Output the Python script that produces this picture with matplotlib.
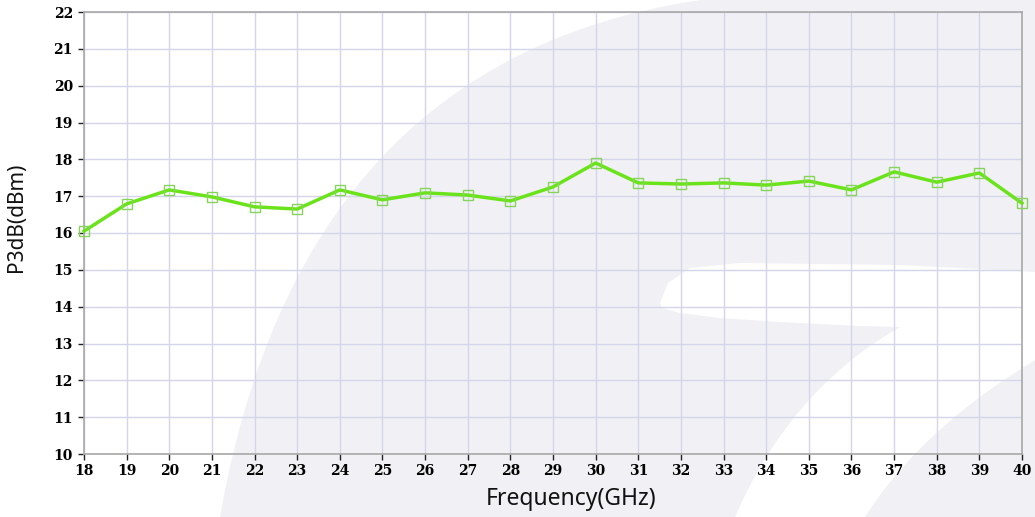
import numpy as np
import matplotlib
matplotlib.use("Agg")
import matplotlib.pyplot as plt
from matplotlib.patches import Polygon

# data
freq_ghz = [18, 19, 20, 21, 22, 23, 24, 25, 26, 27, 28,
            29, 30, 31, 32, 33, 34, 35, 36, 37, 38, 39, 40]
p3db_dbm = [16.05, 16.79, 17.17, 16.98, 16.71, 16.65, 17.17, 16.90, 17.09, 17.03, 16.87,
            17.25, 17.90, 17.36, 17.33, 17.36, 17.30, 17.41, 17.17, 17.66, 17.38, 17.63, 16.81]
x_ticks = list(range(18, 41))
y_ticks = list(range(10, 23))

W, H = 1035, 517
fig = plt.figure(figsize=(W / 100, H / 100), dpi=100)
fig.patch.set_facecolor("white")


def px(points):
    # pixel (top-left origin) -> figure fraction
    return [(x / W, 1 - y / H) for x, y in points]


def bezier(p0, p1, p2, n=40):
    t = np.linspace(0, 1, n)[:, None]
    pts = (1 - t) ** 2 * np.array(p0) + 2 * (1 - t) * t * np.array(p1) + t ** 2 * np.array(p2)
    return [tuple(p) for p in pts]


# faint watermark in the background
wm_gray = bezier((220, 517), (300, 60), (700, 0)) + [(1035, 0), (1035, 517)]
wm_white = ([(660, 303), (668, 283), (690, 268), (740, 263), (900, 265), (1035, 272),
             (1035, 360)]
            + bezier((1035, 360), (920, 430), (865, 517), 15)
            + [(735, 517)]
            + bezier((735, 517), (790, 390), (900, 327), 15)
            + [(860, 326), (780, 322), (720, 318), (680, 313), (662, 308)])
wm_color = "#f1f1f5"
fig.add_artist(Polygon(px(wm_gray), closed=True, transform=fig.transFigure,
                       facecolor=wm_color, edgecolor="none", zorder=0))
fig.add_artist(Polygon(px(wm_white), closed=True, transform=fig.transFigure,
                       facecolor="white", edgecolor="none", zorder=0))

ax = fig.add_axes([84 / W, 1 - 454 / H, 938 / W, 442 / H])
ax.set_facecolor("none")
ax.set_zorder(1)

ax.plot(freq_ghz, p3db_dbm, color="#6be31b", linewidth=2.5, marker="s",
        markersize=6.5, markerfacecolor="none", markeredgecolor="#86d45a",
        markeredgewidth=1.0, zorder=3, clip_on=False)

ax.set_xlim(18, 40)
ax.set_ylim(10, 22)
ax.set_xticks(x_ticks)
ax.set_yticks(y_ticks)
ax.grid(True, color="#d4d4ea", linewidth=1.0, zorder=0)
ax.set_axisbelow(True)

for s in ax.spines.values():
    s.set_color("#a8a8a8")
    s.set_linewidth(1.2)

ax.tick_params(axis="both", direction="out", length=4, width=1, color="#222222",
               labelsize=10)
ax.tick_params(axis="x", pad=3)
ax.tick_params(axis="y", pad=4)
for lab in ax.get_xticklabels() + ax.get_yticklabels():
    lab.set_fontfamily("DejaVu Serif")
    lab.set_fontweight("bold")

fig.text(571 / W, 1 - 499 / H, "Frequency(GHz)", ha="center", va="center",
         fontsize=16.5, family="Noto Sans", color="#111111")
fig.text(17 / W, 1 - 217 / H, "P3dB(dBm)", ha="center", va="center", rotation=90,
         fontsize=15, family="Noto Sans", color="#111111")

fig.savefig("out.png", dpi=100)
